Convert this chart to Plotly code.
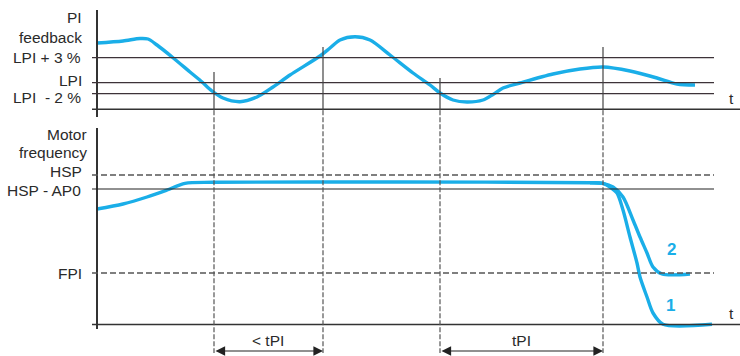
import plotly.graph_objects as go

# ---------------- data (time t, schematic values) ----------------
# PI feedback curve (top panel), value 0 = time axis of top panel
pi_t = [0, 26, 43, 51, 60, 76, 93, 105, 115, 126, 143, 160, 176, 193, 223, 233, 243,
        258, 273, 293, 316, 333, 343, 356, 370, 386, 396, 406, 423, 456, 483, 506,
        533, 560, 580, 598]
pi_v = [66.3, 68.3, 70.8, 70.3, 64.3, 51.6, 37.3, 27.3, 18.3, 11.3, 7.6, 12.3, 22.3,
        34.3, 53.3, 61.3, 69.3, 72.6, 69.3, 54.3, 36.3, 24.3, 16.3, 9.3, 7.3,
        9.3, 14.8, 21.3, 26.3, 35.3, 40.3, 42.3, 38.3, 31.3, 25.3, 24.3]

# Motor frequency, curve 1 (full) and curve 2 (branch)
f1_t = [0, 26, 50, 70, 88, 116, 303, 493, 506, 513, 520, 526, 533, 540, 543, 550, 556, 566, 615]
f1_v = [116, 121, 128, 135, 141.7, 142.7, 143, 142.3, 141.7, 138, 132, 115, 88, 62, 48, 28, 12, 0.7, 0.7]
f2_t = [493, 506, 516, 526, 536, 543, 550, 556, 565, 593]
f2_v = [142.3, 141.7, 138, 128, 105, 88, 72, 58, 51, 51]

# reference levels
top_levels = {"LPI + 3 %": 51.6, "LPI": 26.6, "LPI  - 2 %": 15.6}
HSP, HSP_AP0, FPI = 150, 136, 52

# time markers (vertical lines) and their top ends (top-panel units)
marks_t = [117, 226, 343, 506]
marks_top = [37.3, 62.3, 31.3, 62.3]

BLUE = "#1aaee8"
DARK = "#333333"
FONT = "Liberation Sans, Arial, sans-serif"

fig = go.Figure()
for xs, ys, ya in [(pi_t, pi_v, "y"), (f2_t, f2_v, "y2"), (f1_t, f1_v, "y2")]:
    fig.add_trace(go.Scatter(x=xs, y=ys, mode="lines", yaxis=ya,
                             line=dict(color=BLUE, width=3.4, shape="spline", smoothing=0.8),
                             hoverinfo="skip", showlegend=False))

shapes = []
# axes
shapes.append(dict(type="line", xref="x", yref="y", x0=0, x1=0, y0=99.3, y1=-7.7,
                   line=dict(color=DARK, width=2)))
shapes.append(dict(type="line", xref="x", yref="y", x0=-5, x1=643, y0=0, y1=0,
                   line=dict(color=DARK, width=1.5)))
shapes.append(dict(type="line", xref="x", yref="y2", x0=0, x1=0, y0=197, y1=-4,
                   line=dict(color=DARK, width=2)))
shapes.append(dict(type="line", xref="x", yref="y2", x0=-5, x1=643, y0=0.5, y1=0.5,
                   line=dict(color=DARK, width=1.5)))
# reference levels
for name, v in top_levels.items():
    shapes.append(dict(type="line", xref="x", yref="y", x0=-5, x1=617, y0=v, y1=v,
                       line=dict(color="#3d3338", width=1.2)))
shapes.append(dict(type="line", xref="x", yref="y2", x0=-5, x1=617, y0=HSP, y1=HSP,
                   line=dict(color="#555555", width=1.6, dash="6px,3px")))
shapes.append(dict(type="line", xref="x", yref="y2", x0=-5, x1=617, y0=HSP_AP0, y1=HSP_AP0,
                   line=dict(color="#222222", width=1.1)))
shapes.append(dict(type="line", xref="x", yref="y2", x0=-5, x1=617, y0=FPI, y1=FPI,
                   line=dict(color="#555555", width=1.6, dash="6px,3px")))
# time markers
for t, top in zip(marks_t, marks_top):
    shapes.append(dict(type="line", xref="x", yref="y", x0=t, x1=t, y0=top, y1=-1,
                       line=dict(color="#444444", width=1.2)))
    shapes.append(dict(type="line", xref="x", yref="y", x0=t, x1=t, y0=-1, y1=-243.7,
                       line=dict(color="#555555", width=1.2, dash="5px,2px")))

ann = []
def label(text, x, y, yref="y", anchor="right", size=15.5, color="#2a2a2a", bold=False):
    if bold:
        text = "<b>" + text + "</b>"
    ann.append(dict(text=text, x=x, y=y, xref="x", yref=yref, showarrow=False,
                    xanchor=anchor, yanchor="middle",
                    font=dict(family=FONT, size=size, color=color)))

label("PI", -13, 92.3)
label("feedback", -13, 72.3)
label("LPI + 3 %", -14, 52.3)
label("LPI", -13, 29.3)
label("LPI  - 2 %", -14, 12.3)
label("Motor", -8, 191, "y2")
label("frequency", -8, 173, "y2")
label("HSP", -13, 154, "y2")
label("HSP - AP0", -14, 135, "y2")
label("FPI", -13, 52, "y2")
label("t", 634, 11.3, anchor="center")
label("t", 634, 12, "y2", anchor="center")
label("< tPI", 171, -15, "y2", anchor="center")
label("tPI", 424, -15, "y2", anchor="center")
label("2", 574, 76, "y2", anchor="center", size=17, color=BLUE, bold=True)
label("1", 573, 20, "y2", anchor="center", size=17, color=BLUE, bold=True)

# duration arrows
for a, b in [(marks_t[0], marks_t[1]), (marks_t[2], marks_t[3])]:
    ann.append(dict(x=b, y=-26, ax=a, ay=-26, xref="x", yref="y2", axref="x", ayref="y2",
                    text="", showarrow=True, arrowhead=2, arrowside="end+start",
                    arrowsize=1.6, arrowwidth=1.2, arrowcolor="#222222",
                    standoff=0, startstandoff=0))

fig.update_layout(
    width=740, height=356, margin=dict(l=0, r=0, t=0, b=0),
    paper_bgcolor="white", plot_bgcolor="white",
    shapes=shapes, annotations=ann, showlegend=False,
    xaxis=dict(range=[-97, 643], visible=False, fixedrange=True),
    yaxis=dict(range=[-246.7, 109.3], visible=False, fixedrange=True),
    yaxis2=dict(range=[-31, 325], visible=False, fixedrange=True, overlaying="y"),
)

fig.write_html("out.html", config={"displayModeBar": False},
               post_script="document.body.style.margin='0';document.body.style.overflow='hidden';")
